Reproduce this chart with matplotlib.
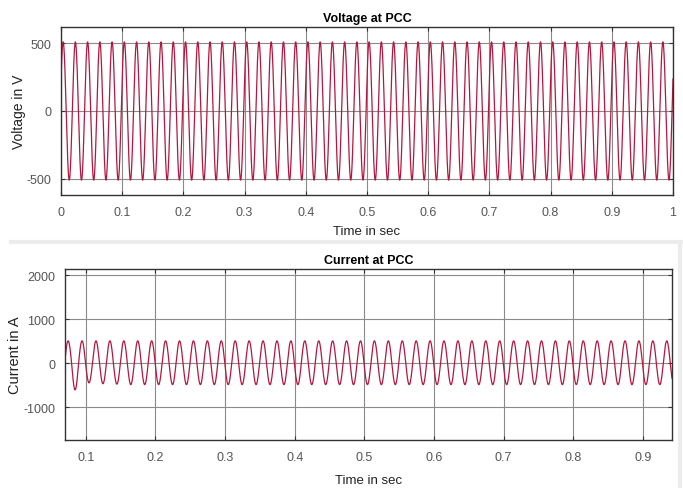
"""Voltage and current at PCC, two stacked scope-style panels."""
import numpy as np
import matplotlib
matplotlib.use("Agg")
import matplotlib.pyplot as plt
from matplotlib.lines import Line2D

# values
FREQ_HZ = 50.0
V_PEAK = 510.0          # V
V_START = 237.0         # V at t = 0 (rising)
V_TICKS = [-500, 0, 500]
V_XTICKS = [0, 0.1, 0.2, 0.3, 0.4, 0.5, 0.6, 0.7, 0.8, 0.9, 1]

I_PEAK = 505.0          # A, positive half-cycles
I_FIRST_PEAK_T = 0.0745  # s
I_TROUGHS = [-610, -450, -470, -480, -490]  # first troughs, then steady
I_TROUGH_STEADY = -490
I_TICKS = [-1000, 0, 1000, 2000]
I_XTICKS = [0.1, 0.2, 0.3, 0.4, 0.5, 0.6, 0.7, 0.8, 0.9]

LINE = "#b3173f"
GRID = "#8a8a8a"
TXT = "#555555"

plt.rcParams["font.family"] = ["Liberation Sans", "DejaVu Sans"]
plt.rcParams["axes.unicode_minus"] = False

fig = plt.figure(figsize=(6.83, 4.89), dpi=100)

# separators of the original screenshot panels
fig.add_artist(Line2D([11 / 683, 1.0], [1 - 243 / 489] * 2, color="#ececec", lw=3))
fig.add_artist(Line2D([1 - 3 / 683] * 2, [0, 1 - 245 / 489], color="#ececec", lw=3))


def style(ax):
    for s in ax.spines.values():
        s.set_color("#333333")
        s.set_linewidth(1.0)
    ax.tick_params(direction="in", top=True, right=True, labelsize=9,
                   colors="#333333", labelcolor=TXT, length=3)
    ax.tick_params(axis="x", pad=8)
    ax.tick_params(axis="y", pad=7)
    ax.grid(True, color=GRID, lw=0.8)
    ax.set_axisbelow(True)


# --- voltage
ax1 = fig.add_axes([61 / 683, 1 - 196 / 489, 612 / 683, 168 / 489])
t = np.linspace(0, 1, 20001)
phi = np.arcsin(V_START / V_PEAK)
v = V_PEAK * np.sin(2 * np.pi * FREQ_HZ * t + phi)
ax1.plot(t, v, color=LINE, lw=0.9)
ax1.set_xlim(0, 1)
ax1.set_ylim(-620, 620)
ax1.set_yticks(V_TICKS)
ax1.set_xticks(V_XTICKS)
ax1.set_xticklabels([f"{x:g}" for x in V_XTICKS])
style(ax1)
ax1.set_title("Voltage at PCC", fontsize=9, fontweight="bold", pad=4)
ax1.set_ylabel("Voltage in V", fontsize=10, color="#222222")
ax1.yaxis.set_label_coords(-0.057, 0.5)
ax1.set_xlabel("Time in sec", fontsize=9.5, color="#222222", labelpad=5)

# --- current
ax2 = fig.add_axes([65 / 683, 1 - 441 / 489, 607 / 683, 171 / 489])
ti = np.linspace(0.07, 0.942, 20001)
ph = 2 * np.pi * FREQ_HZ * (ti - I_FIRST_PEAK_T)
cyc = np.floor((ti - I_FIRST_PEAK_T) * FREQ_HZ).astype(int)
trough = np.array([I_TROUGHS[c] if 0 <= c < len(I_TROUGHS) else I_TROUGH_STEADY
                   for c in cyc])
c = np.cos(ph)
cur = np.where(c >= 0, I_PEAK * c, -trough * c)
ax2.plot(ti, cur, color=LINE, lw=0.9)
ax2.set_xlim(0.07, 0.942)
ax2.set_ylim(-1750, 2140)
ax2.set_yticks(I_TICKS)
ax2.set_xticks(I_XTICKS)
ax2.set_xticklabels([f"{x:g}" for x in I_XTICKS])
style(ax2)
ax2.set_title("Current at PCC", fontsize=9, fontweight="bold", pad=4)
ax2.set_ylabel("Current in A", fontsize=10.5, color="#222222")
ax2.yaxis.set_label_coords(-0.071, 0.5)
ax2.set_xlabel("Time in sec", fontsize=9.5, color="#222222", labelpad=8)

fig.savefig("out.png", dpi=100)
